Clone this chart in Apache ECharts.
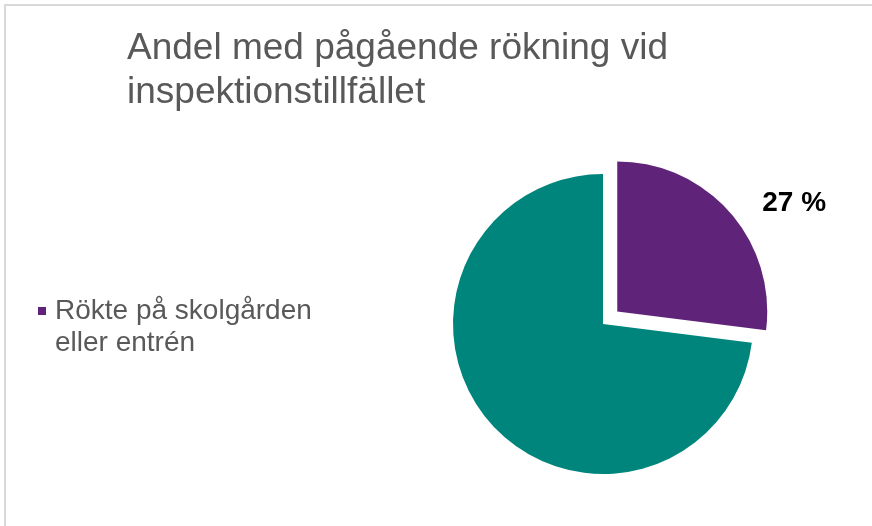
<!DOCTYPE html>
<html>
<head>
<meta charset="utf-8">
<script src="https://cdn.jsdelivr.net/npm/echarts@6/dist/echarts.min.js"></script>
<style>
html,body{margin:0;padding:0;background:#fff;}
#c{width:872px;height:526px;}
</style>
</head>
<body>
<div id="c"></div>
<script>
const titleText = "Andel med pågående rökning vid\ninspektionstillfället";
const categories = ["Rökte på skolgården\neller entrén", "Övriga"];
const values = [27, 73];
const colors = ["#5f2479", "#00857c"];

const chart = echarts.init(document.getElementById('c'), null, {renderer: 'canvas'});
chart.setOption({
  animation: false,
  backgroundColor: '#ffffff',
  graphic: [{
    type: 'rect',
    shape: {x: 5, y: 5, width: 1000, height: 800},
    style: {fill: 'none', stroke: '#d9d9d9', lineWidth: 2},
    silent: true, z: -10
  }],
  title: {
    text: titleText,
    left: 127, top: 27, padding: 0,
    textStyle: {fontFamily: 'Liberation Sans, Arial, sans-serif', fontSize: 37, fontWeight: 'normal', color: '#595959', lineHeight: 44}
  },
  legend: {
    data: [categories[0]],
    orient: 'vertical',
    left: 38, top: 263,
    padding: 0,
    icon: 'rect',
    itemWidth: 8, itemHeight: 8,
    itemGap: 10,
    selectedMode: false,
    formatter: function (name) { return '\n' + name; },
    textStyle: {fontFamily: 'Liberation Sans, Arial, sans-serif', fontSize: 28, color: '#595959', lineHeight: 32, padding: [0, 0, 0, 4]}
  },
  series: [{
    type: 'pie',
    center: [603, 324],
    radius: 150,
    startAngle: 90,
    clockwise: true,
    selectedMode: 'single',
    selectedOffset: 19,
    avoidLabelOverlap: false,
    emphasis: {disabled: true},
    label: {
      show: true,
      position: 'outside',
      formatter: '{c} %',
      fontFamily: 'Liberation Sans, Arial, sans-serif',
      fontSize: 28, fontWeight: 'bold', color: '#000000',
      distanceToLabelLine: 5
    },
    labelLine: {show: false, length: 14, length2: 17},
    data: [
      {name: categories[0], value: values[0], selected: true, itemStyle: {color: colors[0]}},
      {name: categories[1], value: values[1], itemStyle: {color: colors[1]}, label: {show: false}}
    ]
  }]
});
</script>
</body>
</html>
